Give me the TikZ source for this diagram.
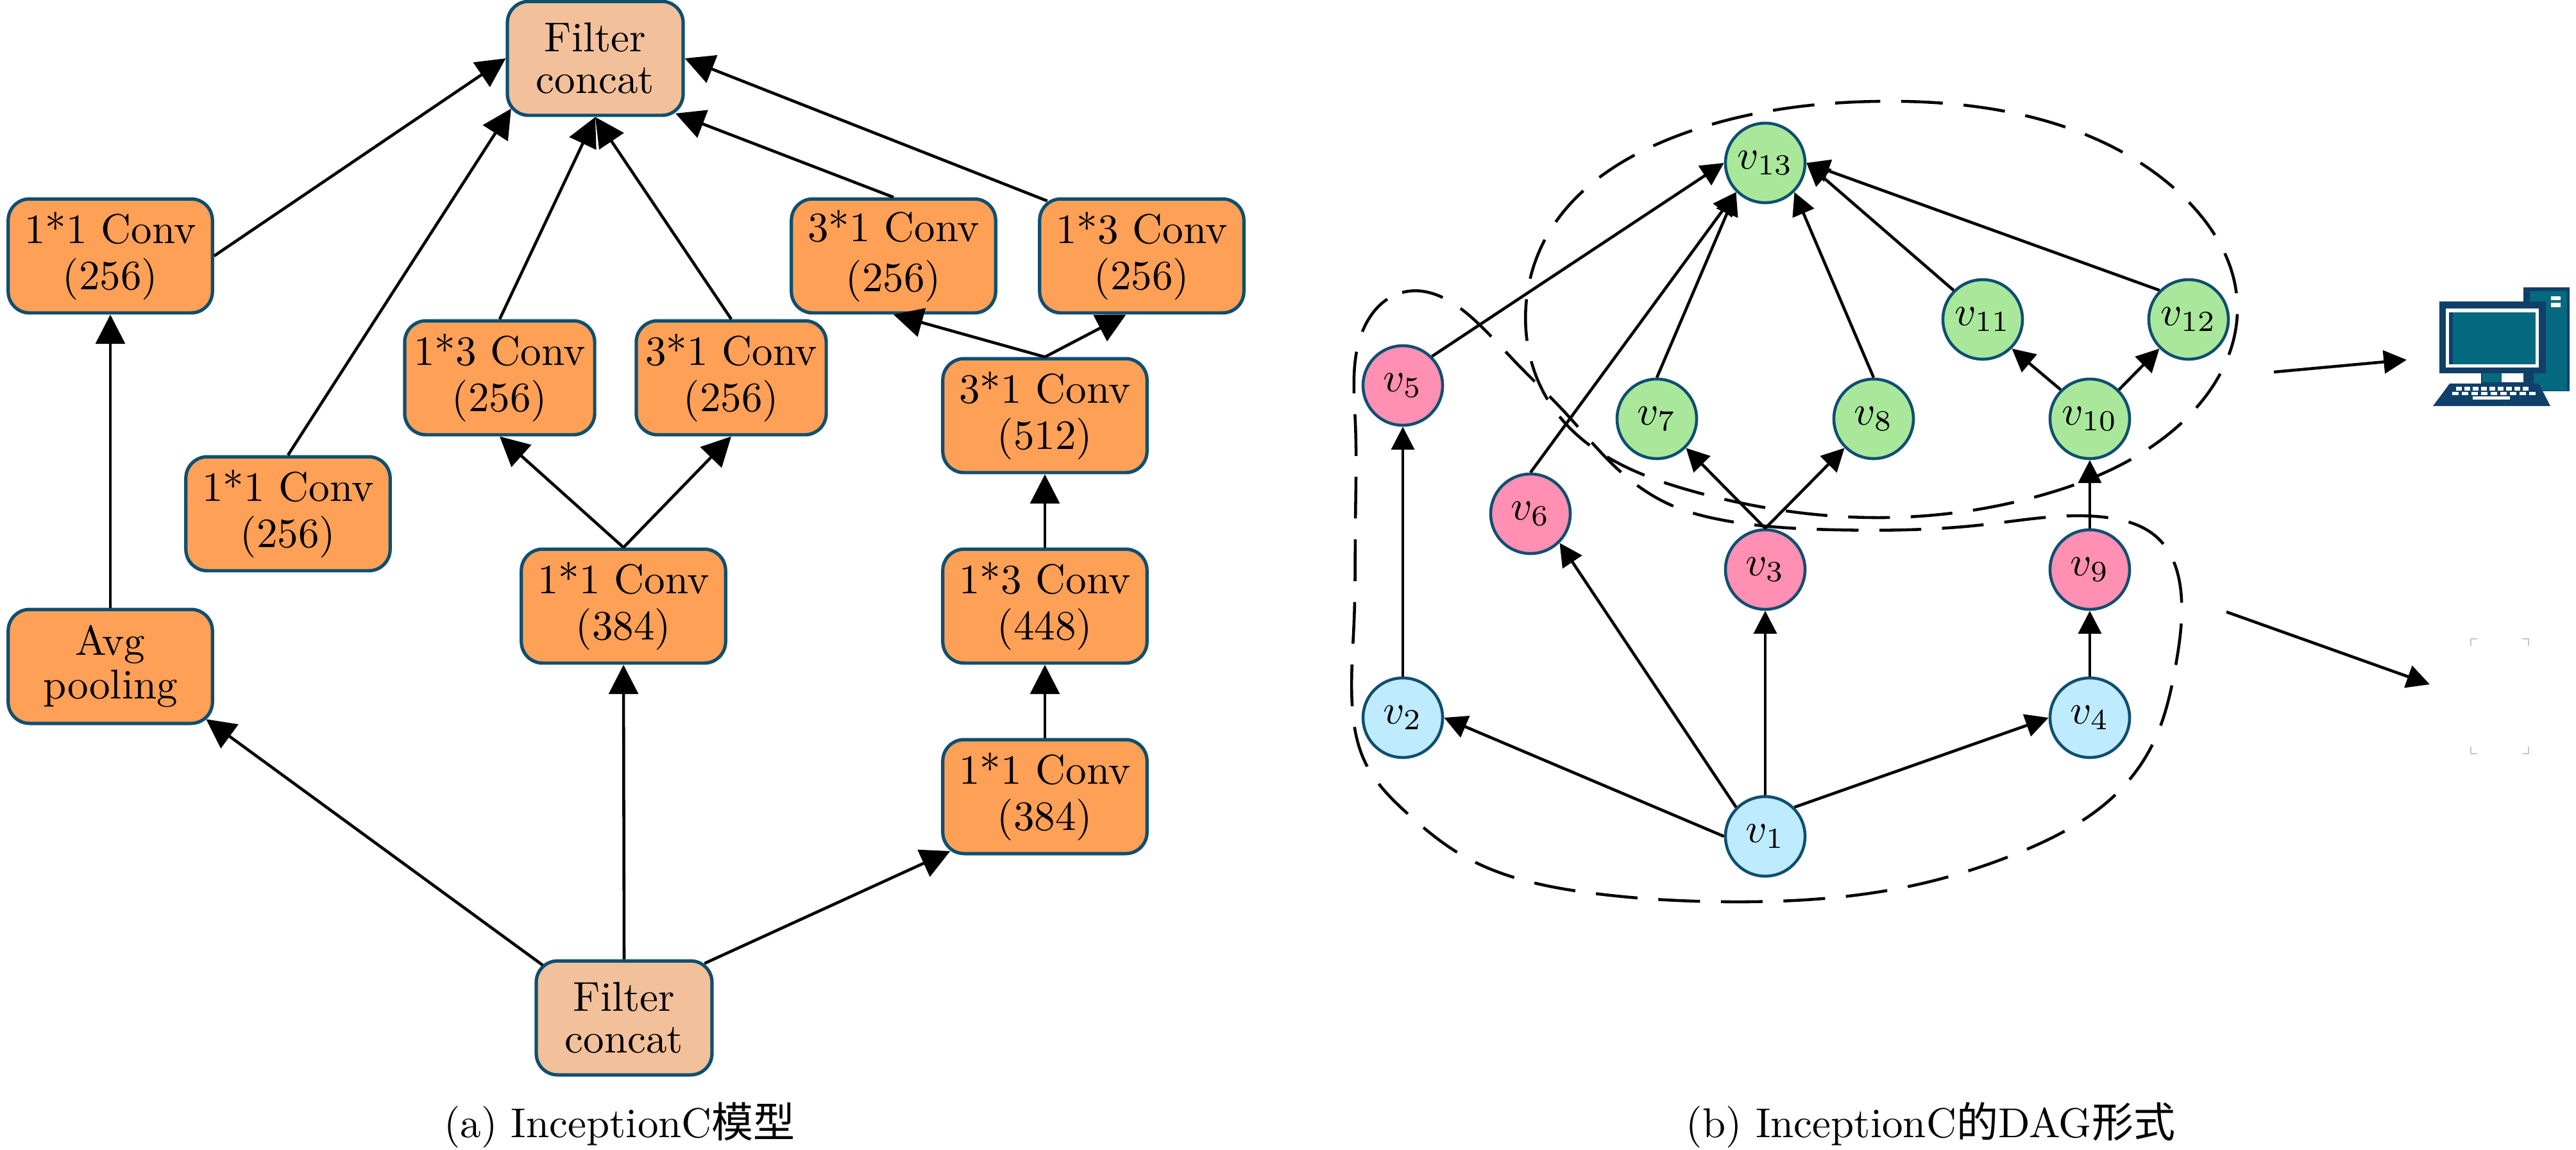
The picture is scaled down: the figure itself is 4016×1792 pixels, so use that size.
\documentclass[tikz,border=0pt]{standalone}
\usepackage{fontspec}
\newfontfamily\cjk{Noto Sans CJK SC}
\usepackage{amssymb,amsmath}
\usetikzlibrary{arrows.meta}
\usetikzlibrary{hobby}
\definecolor{edgeNavy}{HTML}{0E4F70}
\definecolor{convFill}{HTML}{FFA057}
\definecolor{concatFill}{HTML}{F2C09A}
\definecolor{pinkFill}{HTML}{FF8FB3}
\definecolor{greenFill}{HTML}{A9E89B}
\definecolor{blueFill}{HTML}{BFEBFF}
\definecolor{pcNavy}{HTML}{10406A}
\definecolor{pcTeal}{HTML}{05697F}
\tikzset{
    box/.style={draw=edgeNavy, line width=0.8pt, rounded corners=0.18cm, align=center, inner sep=0pt, minimum height=0.96cm},
    conv/.style={box, fill=convFill, minimum width=1.72cm},
    convs/.style={box, fill=convFill, minimum width=1.6cm},
    concat/.style={box, fill=concatFill, minimum width=1.48cm},
    vert/.style={circle, draw=edgeNavy, line width=0.7pt, inner sep=0pt, minimum size=0.67cm},
    big/.style={line width=0.7pt, -{Triangle[length=7pt,width=7pt]}},
    small/.style={line width=0.7pt, -{Triangle[length=5.5pt,width=5.5pt]}},
    toCorner/.style={shorten >=-2.4pt},
    fromCorner/.style={shorten <=-2.4pt},
    group/.style={line width=0.7pt, dash pattern=on 10pt off 5pt}
}
\begin{document}
\begin{tikzpicture}[x=0.0054cm,y=-0.0054cm]
\useasboundingbox (0,0) rectangle (4016,1792);
% left: the model
\foreach \x/\y/\p/\labeltext in {172/399/lA/{1*1 Conv\\[-1pt](256)}, 1393/399/rA/{3*1 Conv\\(256)}, 1780/399/rB/{1*3 Conv\\[-1pt](256)}, 449/801/lB/{1*1 Conv\\[-1pt](256)}, 972/945/mC/{1*1 Conv\\[-1pt](384)}, 1629/648/rC/{3*1 Conv\\[-1pt](512)}, 1629/945/rD/{1*3 Conv\\[-1pt](448)}, 1629/1242/rE/{1*1 Conv\\[-1pt](384)}, 172/1039/avg/{Avg\\[-1.5pt]pooling}}{
    \node[conv] (\p) at (\x,\y) {\labeltext};
}
\node[convs] (mA) at (779,589) {1*3 Conv\\[-1pt](256)};
\node[convs] (mB) at (1140,589) {3*1 Conv\\[-1pt](256)};
\node[concat] (top) at (928,91) {Filter\\[-2pt]concat};
\node[concat] (bot) at (973,1587) {Filter\\[-2pt]concat};
\foreach \a/\b in {bot.north/mC.south, avg.north/lA.south, mC.north/mA.south, mC.north/mB.south, mA.north/top.south, mB.north/top.south, lA.east/top.west, rC.north/rA.south, rC.north/rB.-105, rD.north/rC.south, rE.north/rD.south}{
    \draw[big] (\a) -- (\b);
}
\foreach \a/\b in {bot.north west/avg.south east, bot.north east/rE.south west}{
    \draw[big, toCorner, fromCorner] (\a) -- (\b);
}
\foreach \a/\b in {lB.north/top.south west, rA.north/top.south east}{
    \draw[big, toCorner] (\a) -- (\b);
}
\draw[big, fromCorner] (rB.north west) -- (top.east);
\node[anchor=base] (capA) at (966,1773) {(a) InceptionC{\cjk 模型}};
% right: the DAG
\foreach \x/\y/\p/\col/\labeltext in {2752/1304/v1/blueFill/{$v_1$}, 2187/1119/v2/blueFill/{$v_2$}, 3258/1119/v4/blueFill/{$v_4$}, 2752/888/v3/pinkFill/{$v_3$}, 3258/888/v9/pinkFill/{$v_9$}, 2187/601/v5/pinkFill/{$v_5$}, 2386/801/v6/pinkFill/{$v_6$}, 2583/653/v7/greenFill/{$v_7$}, 2921/653/v8/greenFill/{$v_8$}, 3258/653/v10/greenFill/{$v_{10}$}, 3091/498/v11/greenFill/{$v_{11}$}, 3412/498/v12/greenFill/{$v_{12}$}, 2752/254/v13/greenFill/{$v_{13}$}}{
    \node[vert, fill=\col] (\p) at (\x,\y) {\labeltext};
}
\foreach \a/\b in {v1.west/v2.east, v1.north west/v6.south east, v1.north/v3.south, v1.north east/v4.west, v2.north/v5.south, v4.north/v9.south, v9.north/v10.south, v3.north/v7.south east, v3.north/v8.south west, v10.north west/v11.south east, v10.north east/v12.south west, v5.north east/v13.west, v6.north/v13.south west, v7.north/v13.south west, v8.north/v13.south east, v11.north west/v13.east, v12.north west/v13.east}{
    \draw[small] (\a) -- (\b);
}
\draw[group, use Hobby shortcut, closed=true] (2926,158)..(2617,211)..(2411,369)..(2379,476)..(2424,640)..(2643,767)..(2926,807)..(3183,772)..(3389,670)..(3488,476)..(3389,293)..(3106,170);
\draw[group, use Hobby shortcut, closed=true] (2186,456)..(2302,502)..(2366,568)..(2437,640)..(2527,736)..(2604,787)..(2681,810)..(2861,826)..(3093,818)..(3286,807)..(3363,838)..(3401,935)..(3392,1037)..(3358,1156)..(3301,1236)..(3153,1327)..(2966,1384)..(2698,1406)..(2478,1392)..(2277,1332)..(2196,1270)..(2129,1190)..(2108,1099)..(2111,968)..(2113,820)..(2113,660)..(2116,543);
\node[anchor=base] (capB) at (3010,1773) {(b) InceptionC{\cjk 的}DAG{\cjk 形式}};
% arrows out to the machines
\coordinate (outA) at (3545,580);
\coordinate (pcA) at (3752,561);
\coordinate (outB) at (3471,954);
\coordinate (pcB) at (3788,1067);
\draw[small] (outA) -- (pcA);
\draw[small] (outB) -- (pcB);
% computer
\fill[pcNavy] (3934,448) rectangle (4006,610);
\fill[pcTeal] (3944,454) rectangle (4002,609);
\fill[white] (3977,462) rectangle (3992,468);
\fill[white] (3977,472) rectangle (3992,479);
\fill[pcNavy] (3803,470) rectangle (3969,582);
\fill[white] (3813,481) rectangle (3958,573);
\fill[pcNavy] (3818,487) rectangle (3824,568);
\fill[pcTeal] (3824,487) rectangle (3953,568);
\fill[pcNavy] (3868,582) rectangle (3950,600);
\fill[pcTeal] (3870,582) rectangle (3899,596);
\fill[white] (3900,582) rectangle (3934,596);
\fill[pcNavy] (3819,598) -- (3958,598) -- (3976,633) -- (3793,633) -- cycle;
\foreach \k in {0,...,8}{
    \fill[white] (3829+\k*13,603) rectangle ++(9,6);
    \fill[white] (3823+\k*15,611) rectangle ++(10,5);
}
\fill[white] (3855,618) rectangle (3913,623);
% empty frame below
\foreach \x/\y/\dx/\dy in {3852/996/10/11, 3942/996/-10/11, 3852/1175/10/-11, 3942/1175/-10/-11}{
    \draw[gray!45, line width=0.4pt] (\x+\dx,\y) -- (\x,\y) -- (\x,\y+\dy);
}
\end{tikzpicture}
\end{document}
